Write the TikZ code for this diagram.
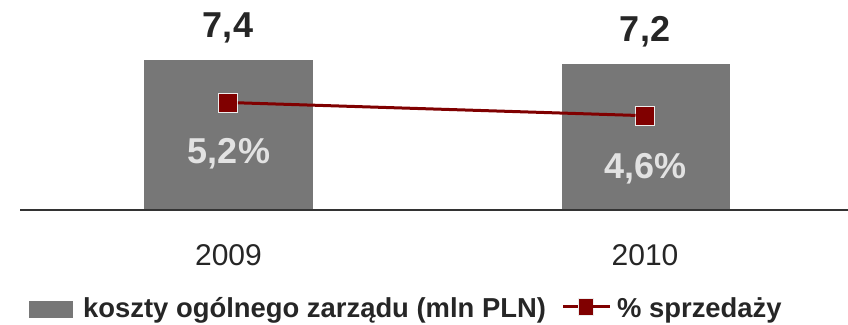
\documentclass[tikz,border=0pt]{standalone}
\usepackage{fontspec}
\setmainfont{Liberation Sans}
\definecolor{bargray}{HTML}{777777}
\definecolor{darkred}{HTML}{800000}
\definecolor{txtdark}{HTML}{262626}
\definecolor{txtlight}{HTML}{E2E2E2}
\definecolor{axisc}{HTML}{333333}
\tikzset{
  bar/.style={fill=bargray, draw=none, inner sep=0pt, outer sep=0pt},
  mark box/.style={fill=darkred, draw=white!85!gray, line width=1pt, minimum size=19pt, inner sep=0pt, outer sep=0pt},
  series line/.style={draw=darkred, line width=3pt},
  valtop/.style={anchor=base, font=\fontsize{36}{40}\selectfont\bfseries, text=txtdark, inner sep=0pt},
  valin/.style={anchor=base, font=\fontsize{36}{40}\selectfont\bfseries, text=txtlight, inner sep=0pt},
  yearlbl/.style={anchor=base, font=\fontsize{30}{34}\selectfont, text=txtdark, inner sep=0pt},
  legtext/.style={anchor=base west, font=\fontsize{27.4}{32}\selectfont\bfseries, text=txtdark, inner sep=0pt},
}
\begin{document}
\begin{tikzpicture}[x=1pt, y=-1pt]
\useasboundingbox (0,0) rectangle (848,324);
% bars
\node[bar, minimum width=169pt, minimum height=150pt, anchor=south west] (b1) at (144,209.5) {};
\node[bar, minimum width=168pt, minimum height=146pt, anchor=south west] (b2) at (562,209.5) {};
% axis
\coordinate (axl) at (20,210);
\coordinate (axr) at (848,210);
\draw[axisc, line width=1.2pt] (axl) -- (axr);
% value labels
\node[valtop] (v1) at (228,37) {7,4};
\node[valtop] (v2) at (645,41) {7,2};
\node[valin] (p1) at (229,163) {5,2\%};
\node[valin] (p2) at (645.5,178) {4,6\%};
% years
\node[yearlbl] (y1) at (228.5,265) {2009};
\node[yearlbl] (y2) at (645,265) {2010};
% series
\node[mark box] (m1) at (228.3,102.5) {};
\node[mark box] (m2) at (645,115.7) {};
\draw[series line] (m1) -- (m2);
% legend
\node[bar, minimum width=44pt, minimum height=17pt, anchor=north west] (lg1) at (29,300.7) {};
\node[legtext] (lt1) at (83,317.5) {koszty ogólnego zarządu (mln PLN)};
\coordinate (ll) at (563,306.5);
\coordinate (lr) at (610,306.5);
\node[mark box, minimum width=15pt, minimum height=17pt] (lm) at (585.5,306.5) {};
\draw[series line] (ll) -- (lm);
\draw[series line] (lm) -- (lr);
\node[legtext] (lt2) at (617,317.5) {\% sprzedaży};
\end{tikzpicture}
\end{document}
